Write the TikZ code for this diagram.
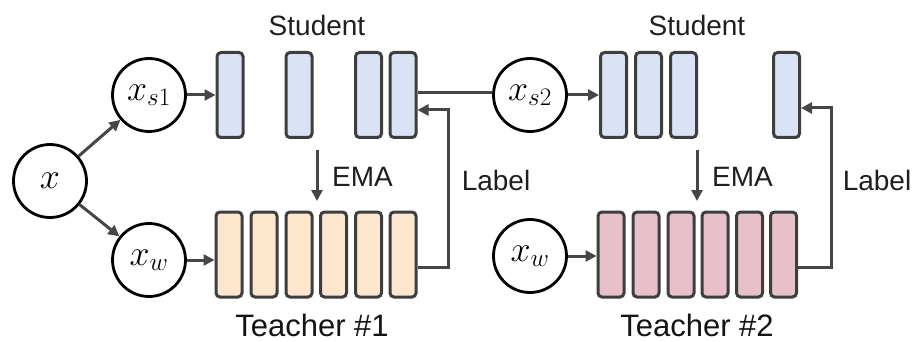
\documentclass[tikz,border=0pt]{standalone}
\usepackage{fix-cm}
\usepackage{fontspec}
\setmainfont{Liberation Sans}
\usetikzlibrary{arrows.meta}
\definecolor{stu}{RGB}{218,227,246}
\definecolor{tea1}{RGB}{252,230,206}
\definecolor{tea2}{RGB}{232,192,202}
\definecolor{boxline}{RGB}{62,62,62}
\definecolor{arrgray}{RGB}{70,70,70}
\begin{document}
\begin{tikzpicture}[x=1pt,y=-1pt,
  circ/.style={circle,draw=black,line width=2.8pt,minimum size=73pt,inner sep=0pt,font=\fontsize{36}{36}\selectfont},
  boxbase/.style={draw=boxline,line width=3pt,rounded corners=4pt,minimum width=26pt,minimum height=85pt,inner sep=0pt},
  sbox/.style={boxbase,fill=stu},
  tboxa/.style={boxbase,fill=tea1},
  tboxb/.style={boxbase,fill=tea2},
  conn/.style={draw=arrgray,line width=3pt},
  arr/.style={conn,-{Triangle[length=11pt,width=11pt]}},
  lbl/.style={font=\fontsize{28}{28}\selectfont,text=black!88,inner sep=0pt},
  tlbl/.style={font=\fontsize{31}{31}\selectfont,text=black!92,inner sep=0pt}
]
\useasboundingbox (0,0) rectangle (913,342);

% circles
\node[circ] (x) at (50,181) {$x$};
\node[circ] (xs1) at (149,95) {$x_{s1}$};
\node[circ] (xw1) at (149,260) {$x_{w}$};
\node[circ] (xs2) at (530,95) {$x_{s2}$};
\node[circ] (xw2) at (530,256) {$x_{w}$};

% student 1
\node[sbox] (s11) at (230,95) {};
\node[sbox] (s12) at (299,95) {};
\node[sbox] (s13) at (368.5,95) {};
\node[sbox] (s14) at (403,95) {};
% teacher 1
\node[tboxa] (t11) at (229,254.5) {};
\node[tboxa] (t12) at (264,254.5) {};
\node[tboxa] (t13) at (299,254.5) {};
\node[tboxa] (t14) at (333.5,254.5) {};
\node[tboxa] (t15) at (368.5,254.5) {};
\node[tboxa] (t16) at (403,254.5) {};
% student 2
\node[sbox] (s21) at (613.5,95) {};
\node[sbox] (s22) at (648.5,95) {};
\node[sbox] (s23) at (683.5,95) {};
\node[sbox] (s24) at (786.5,95) {};
% teacher 2
\node[tboxb] (t21) at (611,254.5) {};
\node[tboxb] (t22) at (646,254.5) {};
\node[tboxb] (t23) at (681,254.5) {};
\node[tboxb] (t24) at (715,254.5) {};
\node[tboxb] (t25) at (749.5,254.5) {};
\node[tboxb] (t26) at (783.5,254.5) {};

% labels
\node[lbl] (stl1) at (317,25) {Student};
\node[lbl] (stl2) at (697,25) {Student};
\node[lbl,anchor=west] (ema1) at (332,177) {EMA};
\node[lbl,anchor=west] (ema2) at (712,177) {EMA};
\node[lbl] (lab1) at (496,180) {Label};
\node[lbl] (lab2) at (877,180) {Label};
\node[tlbl] (tl1) at (312,325) {Teacher \#1};
\node[tlbl] (tl2) at (697,325) {Teacher \#2};

% connectors
\draw[arr] (x) -- (xs1);
\draw[arr] (x) -- (xw1);
\draw[arr] (xs1) -- (s11);
\draw[arr] (xw1.east) -- (xw1.east -| t11.west);
\draw[arr] (xs2) -- (s21);
\draw[arr] (xw2.east) -- (xw2.east -| t21.west);
\draw[conn] ([shift={(0,-2)}]s14.east) -- ([shift={(0,-2)}]xs2.west);

\coordinate (e1a) at (317,150);
\coordinate (e1b) at (317,201);
\coordinate (e2a) at (697,150);
\coordinate (e2b) at (697,201);
\draw[arr] (e1a) -- (e1b);
\draw[arr] (e2a) -- (e2b);

\draw[arr] ([shift={(0,12.5)}]t16.east) -- ++(31,0) |- ([shift={(0,15)}]s14.east);
\draw[arr] ([shift={(0,12.5)}]t26.east) -- ++(33,0) |- ([shift={(0,13)}]s24.east);
\end{tikzpicture}
\end{document}
